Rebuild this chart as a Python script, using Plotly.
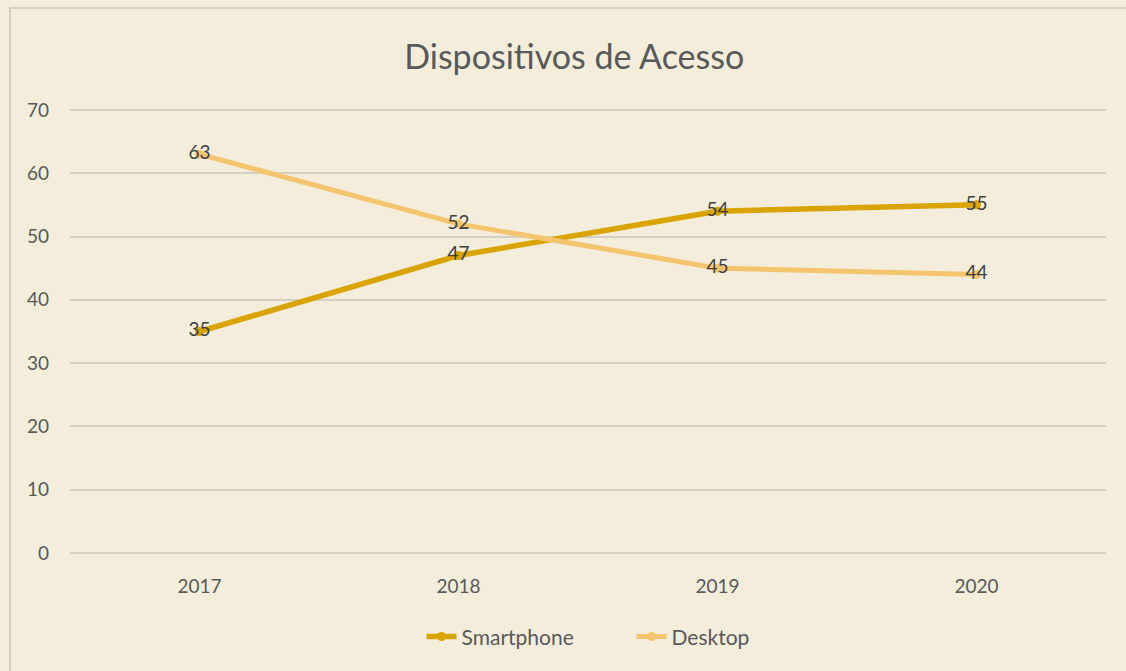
import plotly.graph_objects as go

years = ["2017", "2018", "2019", "2020"]
smartphone = [35, 47, 54, 55]
desktop = [63, 52, 45, 44]

bg = "#F4EDDC"
FONT = "Lato, Open Sans, sans-serif"
fig = go.Figure()
fig.add_trace(go.Scatter(
    x=years, y=smartphone, name="Smartphone", mode="lines+markers+text",
    line=dict(color="#D9A300", width=5.5), marker=dict(size=9, color="#D9A300"),
    text=[str(v) for v in smartphone], textposition="middle center",
    textfont=dict(size=19, color="#404040", family=FONT),
))
fig.add_trace(go.Scatter(
    x=years, y=desktop, name="Desktop", mode="lines+markers+text",
    line=dict(color="#F5C46E", width=5), marker=dict(size=9, color="#F5C46E"),
    text=[str(v) for v in desktop], textposition="middle center",
    textfont=dict(size=19, color="#404040", family=FONT),
))

# plot area: 0 -> y=553px, 70 -> y=110px
fig.update_layout(
    width=1126, height=671,
    paper_bgcolor=bg, plot_bgcolor=bg,
    margin=dict(l=70, r=20, t=108, b=116),
    font=dict(family=FONT, color="#595959", size=19),
    title=dict(text="Dispositivos de Acesso", x=0.51, xanchor="center", y=0.915, yanchor="middle",
               font=dict(size=34, color="#595959")),
    showlegend=True,
    legend=dict(orientation="h", x=0.542, xanchor="center", y=-0.183, yanchor="middle",
                font=dict(size=21, color="#595959"), bgcolor="rgba(0,0,0,0)",
                entrywidth=165),
    xaxis=dict(type="category", range=[-0.5, 3.5], showgrid=False, showline=False,
               zeroline=False, ticks="", ticklabelstandoff=18, tickfont=dict(size=19)),
    yaxis=dict(range=[-0.3, 70.3], tickvals=[0, 10, 20, 30, 40, 50, 60, 70],
               showgrid=True, gridcolor="#D6D0C2", gridwidth=1.5,
               zeroline=False, showline=False, ticks="", ticklabelstandoff=20,
               tickfont=dict(size=19)),
    shapes=[dict(type="rect", xref="paper", yref="paper", x0=-0.0579, x1=1.3, y0=-0.6, y1=1.2235,
                 line=dict(color="#D6D0C2", width=2), fillcolor="rgba(0,0,0,0)", layer="below")],
)
fig.write_html("out.html", config={"displayModeBar": False},
               post_script="document.body.style.margin='0';document.body.style.overflow='hidden';")
